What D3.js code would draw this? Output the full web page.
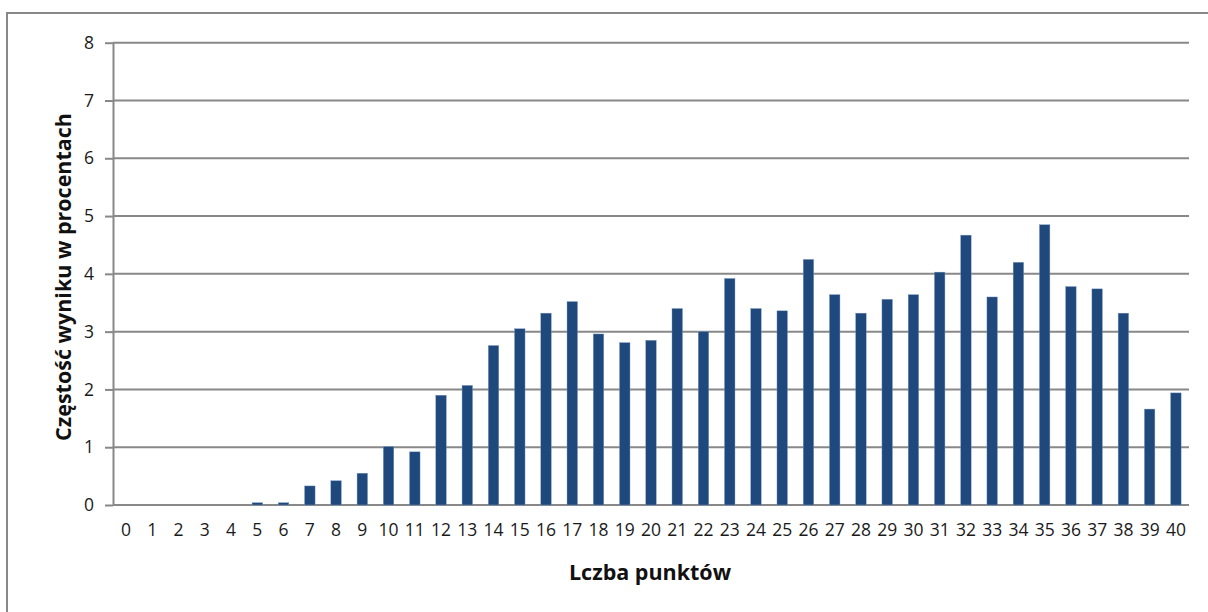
<!DOCTYPE html>
<html>
<head>
<meta charset="utf-8">
<script src="https://cdn.jsdelivr.net/npm/d3@7"></script>
<style>
  html, body { margin: 0; padding: 0; background: #fff; }
  svg { display: block; }
</style>
</head>
<body>
<svg id="chart" width="1208" height="612"></svg>
<script>
const categories = d3.range(0, 41).map(String);
const values = [0, 0, 0, 0, 0, 0.04, 0.04, 0.33, 0.42, 0.55,
  1.01, 0.92, 1.90, 2.07, 2.76, 3.05, 3.32, 3.52, 2.96, 2.81,
  2.85, 3.40, 3.00, 3.92, 3.40, 3.36, 4.25, 3.64, 3.32, 3.56,
  3.64, 4.03, 4.67, 3.60, 4.20, 4.85, 3.78, 3.74, 3.32, 1.66, 1.94];
const yTicks = [0, 1, 2, 3, 4, 5, 6, 7, 8];
const yTitle = "Częstość wyniku w procentach";
const xTitle = "Lczba punktów";

const svg = d3.select("#chart");
const font = "'Open Sans', 'Liberation Sans', sans-serif";

// outer frame
svg.append("rect").attr("x", 7).attr("y", 13).attr("width", 1220).attr("height", 620)
  .attr("fill", "none").attr("stroke", "#888").attr("stroke-width", 2);

const pLeft = 113, pRight = 1189, pTop = 42.7, pBottom = 505;
const x = d3.scaleBand().domain(categories).range([pLeft, pRight]).paddingInner(0.6).paddingOuter(0.3);
const y = d3.scaleLinear().domain([0, 8]).range([pBottom, pTop]);

// gridlines + y axis
const yAxis = svg.append("g").attr("transform", `translate(${pLeft},0)`)
  .call(d3.axisLeft(y).tickValues(yTicks).tickSize(8).tickSizeOuter(0).tickFormat(d3.format("d")));
yAxis.select(".domain").attr("stroke", "#888").attr("stroke-width", 2);
yAxis.selectAll(".tick line").attr("stroke", "#888").attr("stroke-width", 2);
yAxis.selectAll(".tick text").attr("font-family", font).attr("font-size", 17.5)
  .attr("fill", "#1a1a1a").attr("x", -19);

svg.append("g").selectAll("line").data(yTicks).join("line")
  .attr("x1", pLeft).attr("x2", pRight)
  .attr("y1", d => y(d)).attr("y2", d => y(d))
  .attr("stroke", "#888").attr("stroke-width", 2);

// bars
svg.append("g").selectAll("rect").data(values).join("rect")
  .attr("x", (d, i) => x(categories[i]))
  .attr("width", x.bandwidth())
  .attr("y", d => y(d))
  .attr("height", d => y(0) - y(d))
  .attr("fill", "#1F497D")
  .attr("stroke", "#7f9cc0").attr("stroke-width", 0.4);

// x axis labels
const xAxis = svg.append("g").attr("transform", `translate(0,${pBottom})`)
  .call(d3.axisBottom(x).tickSize(0));
xAxis.select(".domain").remove();
xAxis.selectAll(".tick text").attr("font-family", font).attr("font-size", 17.5)
  .attr("fill", "#1a1a1a").attr("dy", "1.62em");

// titles
svg.append("text").attr("x", 650).attr("y", 580).attr("text-anchor", "middle")
  .attr("font-family", font).attr("font-weight", "bold").attr("font-size", 21.5)
  .attr("fill", "#111").text(xTitle);

svg.append("text").attr("transform", "translate(71,277) rotate(-90)").attr("text-anchor", "middle")
  .attr("font-family", font).attr("font-weight", "bold").attr("font-size", 21.5)
  .attr("fill", "#111").text(yTitle);
</script>
</body>
</html>
